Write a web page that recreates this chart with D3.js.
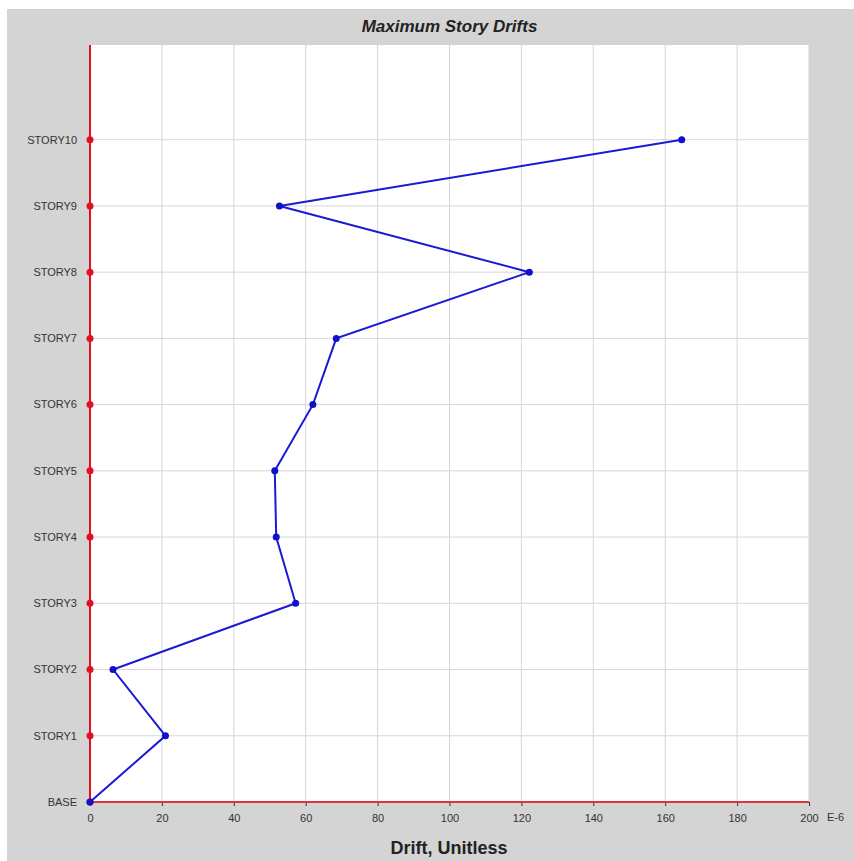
<!DOCTYPE html>
<html>
<head>
<meta charset="utf-8">
<script src="https://cdn.jsdelivr.net/npm/d3@7"></script>
<style>
  html, body { margin: 0; padding: 0; background: #fff; }
  svg { display: block; }
</style>
</head>
<body>
<div id="chart"></div>
<script>
// Story labels, bottom to top
const stories = ["BASE", "STORY1", "STORY2", "STORY3", "STORY4", "STORY5",
  "STORY6", "STORY7", "STORY8", "STORY9", "STORY10"];
// Maximum drift per story (E-6, unitless)
const drifts = [0, 21, 6.4, 57.2, 51.8, 51.4, 62, 68.5, 122.2, 52.7, 164.6];
const xTicks = [0, 20, 40, 60, 80, 100, 120, 140, 160, 180, 200];

const width = 854, height = 861;
const margin = { top: 45, right: 45, bottom: 59, left: 90 };

const svg = d3.select("#chart").append("svg")
  .attr("width", width)
  .attr("height", height);

// grey panel behind the chart
svg.append("rect")
  .attr("x", 7).attr("y", 9)
  .attr("width", width - 7).attr("height", height - 9)
  .attr("fill", "#d4d4d4");

const plotW = width - margin.left - margin.right;
const plotH = height - margin.top - margin.bottom;

const x = d3.scaleLinear().domain([0, 200]).range([0, plotW]);
const y = d3.scaleLinear().domain([0, 11.43]).range([plotH, 0]);

const g = svg.append("g")
  .attr("transform", `translate(${margin.left},${margin.top})`);

g.append("rect")
  .attr("width", plotW).attr("height", plotH)
  .attr("fill", "#fff");

// grid lines
g.append("g").selectAll("line")
  .data(xTicks.slice(1))
  .join("line")
  .attr("x1", d => x(d)).attr("x2", d => x(d))
  .attr("y1", 0).attr("y2", plotH)
  .attr("stroke", "#d6d6d6").attr("stroke-width", 1);

g.append("g").selectAll("line")
  .data(stories.slice(1))
  .join("line")
  .attr("x1", 0).attr("x2", plotW)
  .attr("y1", (d, i) => y(i + 1)).attr("y2", (d, i) => y(i + 1))
  .attr("stroke", "#d6d6d6").attr("stroke-width", 1);

// bottom axis
const xAxis = d3.axisBottom(x)
  .tickValues(xTicks)
  .tickSize(4)
  .tickPadding(8)
  .tickFormat(d => d);

const xAxisG = g.append("g")
  .attr("transform", `translate(0,${plotH})`)
  .call(xAxis);
xAxisG.select(".domain").remove();
xAxisG.selectAll(".tick line").attr("stroke", "#333");
xAxisG.selectAll("text")
  .attr("fill", "#333")
  .style("font-family", "Liberation Sans, Arial, sans-serif")
  .style("font-size", "11px");

g.append("line")
  .attr("x1", 0).attr("x2", plotW)
  .attr("y1", plotH).attr("y2", plotH)
  .attr("stroke", "#e0303a").attr("stroke-width", 2);

g.append("text")
  .attr("x", plotW + 18).attr("y", plotH + 19)
  .attr("fill", "#333")
  .style("font-family", "Liberation Sans, Arial, sans-serif")
  .style("font-size", "11px")
  .text("E-6");

// left axis with story markers
g.append("line")
  .attr("x1", 0).attr("x2", 0)
  .attr("y1", 0).attr("y2", plotH)
  .attr("stroke", "#e01020").attr("stroke-width", 2);

g.selectAll("circle.story")
  .data(stories)
  .join("circle")
  .attr("class", "story")
  .attr("cx", 0)
  .attr("cy", (d, i) => y(i))
  .attr("r", 3.5)
  .attr("fill", "#e01020");

g.selectAll("text.story")
  .data(stories)
  .join("text")
  .attr("class", "story")
  .attr("x", -13)
  .attr("y", (d, i) => y(i))
  .attr("dy", "0.35em")
  .attr("text-anchor", "end")
  .attr("fill", "#333")
  .style("font-family", "Liberation Sans, Arial, sans-serif")
  .style("font-size", "11px")
  .text(d => d);

// drift line
const line = d3.line()
  .x(d => x(d))
  .y((d, i) => y(i));

g.append("path")
  .datum(drifts)
  .attr("d", line)
  .attr("fill", "none")
  .attr("stroke", "#1a1ad6")
  .attr("stroke-width", 2);

g.selectAll("circle.pt")
  .data(drifts)
  .join("circle")
  .attr("class", "pt")
  .attr("cx", d => x(d))
  .attr("cy", (d, i) => y(i))
  .attr("r", 3.5)
  .attr("fill", "#1010c8");

// titles
svg.append("text")
  .attr("x", margin.left + plotW / 2).attr("y", 32)
  .attr("text-anchor", "middle")
  .attr("fill", "#222")
  .style("font-family", "Liberation Sans, Arial, sans-serif")
  .style("font-size", "17px")
  .style("font-weight", "bold")
  .style("font-style", "italic")
  .text("Maximum Story Drifts");

svg.append("text")
  .attr("x", 449).attr("y", 854)
  .attr("text-anchor", "middle")
  .attr("fill", "#222")
  .style("font-family", "Liberation Sans, Arial, sans-serif")
  .style("font-size", "18px")
  .style("font-weight", "bold")
  .text("Drift, Unitless");
</script>
</body>
</html>
